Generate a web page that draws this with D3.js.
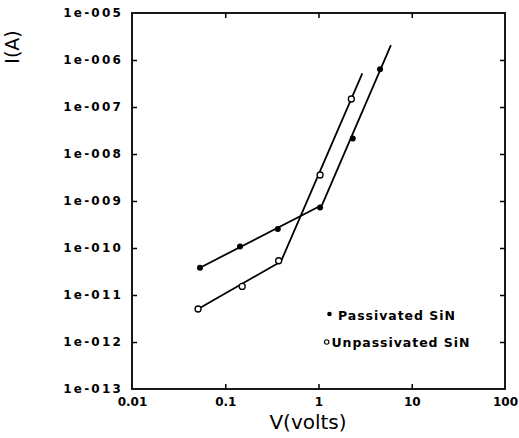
<!DOCTYPE html>
<html>
<head>
<meta charset="utf-8">
<script src="https://cdn.jsdelivr.net/npm/d3@7"></script>
<style>
  html, body { margin: 0; padding: 0; background: #fff; }
  svg { display: block; }
</style>
</head>
<body>
<svg id="chart" width="519" height="438"></svg>
<script>
// ---- data ----
const xTickValues = [0.01, 0.1, 1, 10, 100];
const xTickLabels = ["0.01", "0.1", "1", "10", "100"];
const yTickValues = [1e-5, 1e-6, 1e-7, 1e-8, 1e-9, 1e-10, 1e-11, 1e-12, 1e-13];
const yTickLabels = ["1e-005", "1e-006", "1e-007", "1e-008", "1e-009", "1e-010", "1e-011", "1e-012", "1e-013"];

const passivatedV = [0.0536, 0.144, 0.366, 1.04, 2.33, 4.57];
const passivatedI = [3.81e-11, 1.08e-10, 2.54e-10, 7.28e-10, 2.14e-8, 6.34e-7];
const passivatedFitV = [0.0536, 1.09, 5.98];
const passivatedFitI = [3.81e-11, 8.2e-10, 2.08e-6];

const unpassivatedV = [0.0511, 0.152, 0.374, 1.04, 2.25];
const unpassivatedI = [5.04e-12, 1.52e-11, 5.35e-11, 3.57e-9, 1.48e-7];
const unpassivatedFitV = [0.0511, 0.396, 2.95];
const unpassivatedFitI = [5.04e-12, 5.17e-11, 5.21e-7];

const legendLabels = ["Passivated SiN", "Unpassivated SiN"];

// ---- layout ----
const svg = d3.select("#chart");
const L = 132, R = 505, T = 13, B = 389;
const x = d3.scaleLog().domain([0.01, 100]).range([L, R]);
const y = d3.scaleLog().domain([1e-13, 1e-5]).range([B, T]);
const font = "'DejaVu Sans', sans-serif";

// frame
svg.append("rect").attr("x", L).attr("y", T).attr("width", R - L).attr("height", B - T)
  .attr("fill", "none").attr("stroke", "#000").attr("stroke-width", 1.8);

const innerY = yTickValues.slice(1, -1);
const innerX = xTickValues.slice(1, -1);

// left axis with labels
const gl = svg.append("g").attr("transform", `translate(${L},0)`)
  .call(d3.axisLeft(y).tickValues(yTickValues).tickSize(-5).tickPadding(9)
    .tickFormat((d, i) => yTickLabels[i]));
gl.select(".domain").remove();
gl.selectAll(".tick line").attr("stroke-width", 1.5)
  .filter(d => d === 1e-5 || d === 1e-13).remove();
gl.selectAll("text").attr("font-family", font).attr("font-weight", "bold")
  .attr("font-size", 12).attr("letter-spacing", "2.2px").attr("fill", "#000");

// right axis ticks
const gr = svg.append("g").attr("transform", `translate(${R},0)`)
  .call(d3.axisRight(y).tickValues(innerY).tickSize(-5).tickFormat(""));
gr.select(".domain").remove();
gr.selectAll(".tick line").attr("stroke-width", 1.5);

// bottom axis with labels
const gb = svg.append("g").attr("transform", `translate(0,${B})`)
  .call(d3.axisBottom(x).tickValues(xTickValues).tickSize(-5).tickPadding(8)
    .tickFormat((d, i) => xTickLabels[i]));
gb.select(".domain").remove();
gb.selectAll(".tick line").attr("stroke-width", 1.5)
  .filter(d => d === 0.01 || d === 100).remove();
gb.selectAll("text").attr("font-family", font).attr("font-weight", "bold")
  .attr("font-size", 12).attr("fill", "#000");

// top axis ticks
const gt = svg.append("g").attr("transform", `translate(0,${T})`)
  .call(d3.axisTop(x).tickValues(innerX).tickSize(-5).tickFormat(""));
gt.select(".domain").remove();
gt.selectAll(".tick line").attr("stroke-width", 1.5);

// axis titles
svg.append("text").attr("x", 308).attr("y", 429).attr("text-anchor", "middle")
  .attr("font-family", font).attr("font-size", 20).attr("fill", "#000").text("V(volts)");
svg.append("text").attr("transform", "translate(19,47) rotate(-90)").attr("text-anchor", "middle")
  .attr("font-family", font).attr("font-size", 19).attr("fill", "#000").text("I(A)");

// fit lines
const line = d3.line().x(d => x(d[0])).y(d => y(d[1]));
const pFit = passivatedFitV.map((v, i) => [v, passivatedFitI[i]]);
const uFit = unpassivatedFitV.map((v, i) => [v, unpassivatedFitI[i]]);
[pFit, uFit].forEach(pts => {
  svg.append("path").attr("d", line(pts)).attr("fill", "none")
    .attr("stroke", "#000").attr("stroke-width", 1.8).attr("stroke-linejoin", "round");
});

// markers
svg.append("g").selectAll("circle").data(passivatedV.map((v, i) => [v, passivatedI[i]]))
  .join("circle").attr("cx", d => x(d[0])).attr("cy", d => y(d[1])).attr("r", 3)
  .attr("fill", "#000");
svg.append("g").selectAll("circle").data(unpassivatedV.map((v, i) => [v, unpassivatedI[i]]))
  .join("circle").attr("cx", d => x(d[0])).attr("cy", d => y(d[1])).attr("r", 3)
  .attr("fill", "#fff").attr("stroke", "#000").attr("stroke-width", 1.3);

// legend
svg.append("circle").attr("cx", 329.5).attr("cy", 314).attr("r", 2.3).attr("fill", "#000");
svg.append("text").attr("x", 338).attr("y", 319.5).attr("font-family", font)
  .attr("font-weight", "bold").attr("font-size", 12.5).attr("letter-spacing", "0.95px")
  .attr("fill", "#000").text(legendLabels[0]);
svg.append("circle").attr("cx", 326.7).attr("cy", 342).attr("r", 2.2).attr("fill", "#fff")
  .attr("stroke", "#000").attr("stroke-width", 1.1);
svg.append("text").attr("x", 331.5).attr("y", 347).attr("font-family", font)
  .attr("font-weight", "bold").attr("font-size", 12.5).attr("letter-spacing", "0.95px")
  .attr("fill", "#000").text(legendLabels[1]);
</script>
</body>
</html>
